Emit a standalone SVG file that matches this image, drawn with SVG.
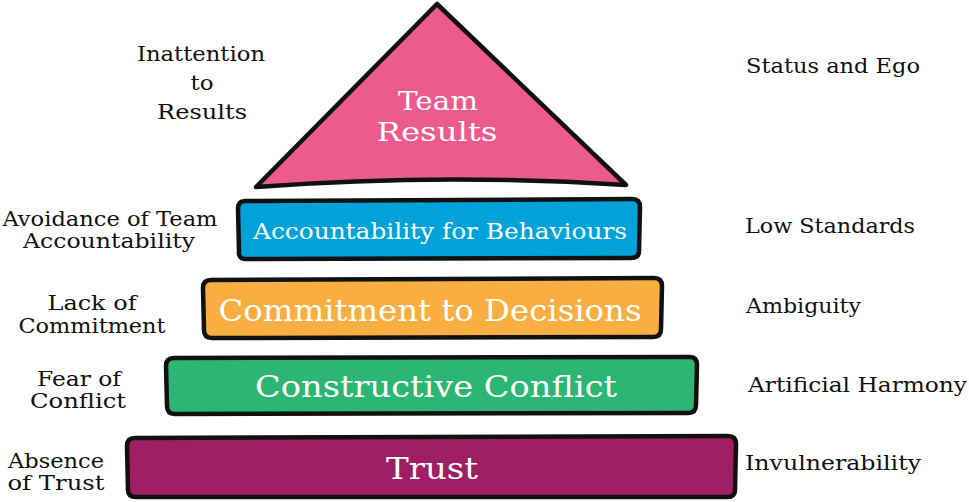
<svg xmlns="http://www.w3.org/2000/svg" width="969" height="502" viewBox="0 0 969 502">
<style>
.shape{stroke:#111;stroke-width:4.5;stroke-linejoin:round}
.lbl{font-family:"DejaVu Serif","Liberation Serif",serif;font-size:21px;fill:#111}
.in{font-family:"DejaVu Serif","Liberation Serif",serif;fill:#fff;text-anchor:middle}
</style>
<rect width="969" height="502" fill="#fff"/>
<g id="team-results">
<path class="shape" fill="#EC5A8E" d="M256,187 L437,4 L626,185 Q440,173 256,187 Z"/>
<text class="in" x="438" y="110" font-size="26" textLength="80" lengthAdjust="spacingAndGlyphs">Team</text>
<text class="in" x="437" y="141" font-size="26" textLength="121" lengthAdjust="spacingAndGlyphs">Results</text>
</g>
<g id="accountability">
<path class="shape" fill="#00A3D9" d="M245,201 L632,199 Q640,199 640,207 L639,251 Q639,258 631,258 L246,259 Q238,259 239,251 L238,209 Q238,201 245,201 Z"/>
<text class="in" x="440" y="239" font-size="22" textLength="374" lengthAdjust="spacingAndGlyphs">Accountability for Behaviours</text>
</g>
<g id="commitment">
<path class="shape" fill="#F9AE42" d="M211,280 L654,278 Q662,278 662,286 L661,329 Q661,337 653,337 L212,338 Q204,338 204,330 L203,288 Q203,280 211,280 Z"/>
<text class="in" x="430" y="321" font-size="29" textLength="423" lengthAdjust="spacingAndGlyphs">Commitment to Decisions</text>
</g>
<g id="conflict">
<path class="shape" fill="#2BB673" d="M174,358 L690,357 Q697,357 697,365 L696,405 Q696,413 688,413 L175,414 Q167,414 167,406 L166,366 Q166,358 174,358 Z"/>
<text class="in" x="436" y="397" font-size="29" textLength="362" lengthAdjust="spacingAndGlyphs">Constructive Conflict</text>
</g>
<g id="trust">
<path class="shape" fill="#9E1F63" d="M135,438 L728,436 Q736,436 736,444 L735,490 Q735,497 727,497 L136,497 Q128,497 128,490 L127,446 Q127,438 135,438 Z"/>
<text class="in" x="432" y="479" font-size="29" textLength="92" lengthAdjust="spacingAndGlyphs">Trust</text>
</g>
<g id="left-labels" class="lbl" text-anchor="middle">
<text x="201" y="61" textLength="128" lengthAdjust="spacingAndGlyphs">Inattention</text>
<text x="202" y="90" textLength="23" lengthAdjust="spacingAndGlyphs">to</text>
<text x="202" y="119" textLength="90" lengthAdjust="spacingAndGlyphs">Results</text>
<text x="110" y="226" textLength="215" lengthAdjust="spacingAndGlyphs">Avoidance of Team</text>
<text x="109" y="248" textLength="172" lengthAdjust="spacingAndGlyphs">Accountability</text>
<text x="92" y="310" textLength="89" lengthAdjust="spacingAndGlyphs">Lack of</text>
<text x="92" y="333" textLength="147" lengthAdjust="spacingAndGlyphs">Commitment</text>
<text x="79" y="386" textLength="84" lengthAdjust="spacingAndGlyphs">Fear of</text>
<text x="78" y="408" textLength="96" lengthAdjust="spacingAndGlyphs">Conflict</text>
<text x="56" y="468" textLength="96" lengthAdjust="spacingAndGlyphs">Absence</text>
<text x="56" y="490" textLength="97" lengthAdjust="spacingAndGlyphs">of Trust</text>
</g>
<g id="right-labels" class="lbl">
<text x="746" y="73" textLength="174" lengthAdjust="spacingAndGlyphs">Status and Ego</text>
<text x="745" y="233" textLength="170" lengthAdjust="spacingAndGlyphs">Low Standards</text>
<text x="746" y="313" textLength="115" lengthAdjust="spacingAndGlyphs">Ambiguity</text>
<text x="748" y="392" textLength="219" lengthAdjust="spacingAndGlyphs">Artificial Harmony</text>
<text x="745" y="470" textLength="176" lengthAdjust="spacingAndGlyphs">Invulnerability</text>
</g>
<g id="connectors"/>
</svg>
